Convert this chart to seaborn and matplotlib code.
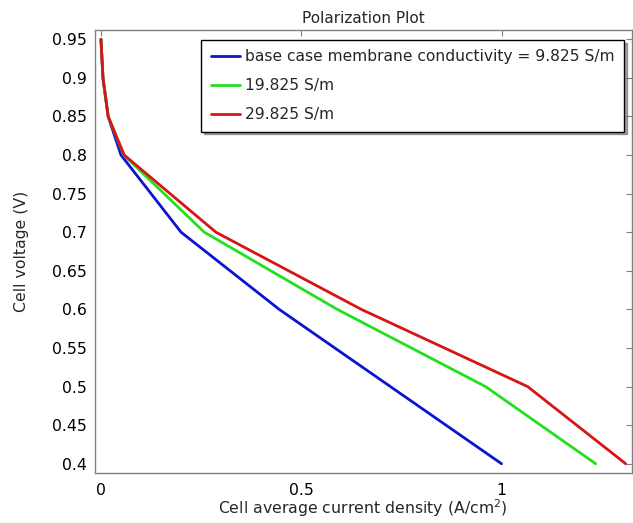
import numpy as np
import pandas as pd
import seaborn as sns
import matplotlib
matplotlib.use("Agg")
import matplotlib.pyplot as plt
from matplotlib.ticker import FuncFormatter

# Polarization curves
labels = ["base case membrane conductivity = 9.825 S/m", "19.825 S/m", "29.825 S/m"]
colors = ["#0a14d2", "#22e01e", "#d81414"]

current_base = [0.0, 0.005, 0.018, 0.05, 0.2, 0.445, 1.0]
voltage_base = [0.95, 0.9, 0.85, 0.8, 0.7, 0.6, 0.4]

current_19 = [0.0, 0.005, 0.018, 0.057, 0.258, 0.59, 0.96, 1.235]
voltage_19 = [0.95, 0.9, 0.85, 0.8, 0.7, 0.6, 0.5, 0.4]

current_29 = [0.0, 0.005, 0.018, 0.058, 0.287, 0.65, 1.065, 1.31]
voltage_29 = [0.95, 0.9, 0.85, 0.8, 0.7, 0.6, 0.5, 0.4]

frames = []
for lab, cur, vol in [(labels[0], current_base, voltage_base),
                      (labels[1], current_19, voltage_19),
                      (labels[2], current_29, voltage_29)]:
    frames.append(pd.DataFrame({"current": cur, "voltage": vol, "case": lab}))
df = pd.concat(frames, ignore_index=True)

sns.set_style("white")
plt.rcParams['font.family'] = ['DejaVu Sans']

fig = plt.figure(figsize=(6.33, 5.23), dpi=100)
ax = fig.add_axes([0.150, 0.0956, 0.848, 0.847])

sns.lineplot(data=df, x="current", y="voltage", hue="case", hue_order=labels,
             palette=colors, sort=False, estimator=None, linewidth=2, ax=ax)

ax.set_xlim(-0.015, 1.325)
ax.set_ylim(0.388, 0.962)
ax.set_xticks([0, 0.5, 1])
ax.set_yticks(np.arange(0.4, 0.951, 0.05))
fmt = FuncFormatter(lambda v, p: "{:g}".format(round(v, 3)))
ax.xaxis.set_major_formatter(fmt)
ax.yaxis.set_major_formatter(fmt)
ax.tick_params(direction="in", length=4, color="#808080", labelsize=11.3,
               top=True, right=True, labelcolor="black")
ax.tick_params(axis="x", pad=7)
ax.tick_params(axis="y", pad=6)
for s in ax.spines.values():
    s.set_color("#808080")
    s.set_linewidth(1)

ax.set_title("Polarization Plot", fontsize=11, pad=5)
ax.set_xlabel("Cell average current density (A/cm$^2$)", fontsize=11.3, labelpad=0)
ax.set_ylabel("Cell voltage (V)", fontsize=11.3, labelpad=16)

leg = ax.legend(loc="upper right", bbox_to_anchor=(1.0, 0.995), fontsize=11.2,
                frameon=True, fancybox=False, shadow=True, handlelength=1.9,
                handletextpad=0.3, borderpad=0.6, labelspacing=0.9)
leg.get_frame().set_edgecolor("black")
leg.get_frame().set_linewidth(1)

fig.savefig("out.png", dpi=100)
